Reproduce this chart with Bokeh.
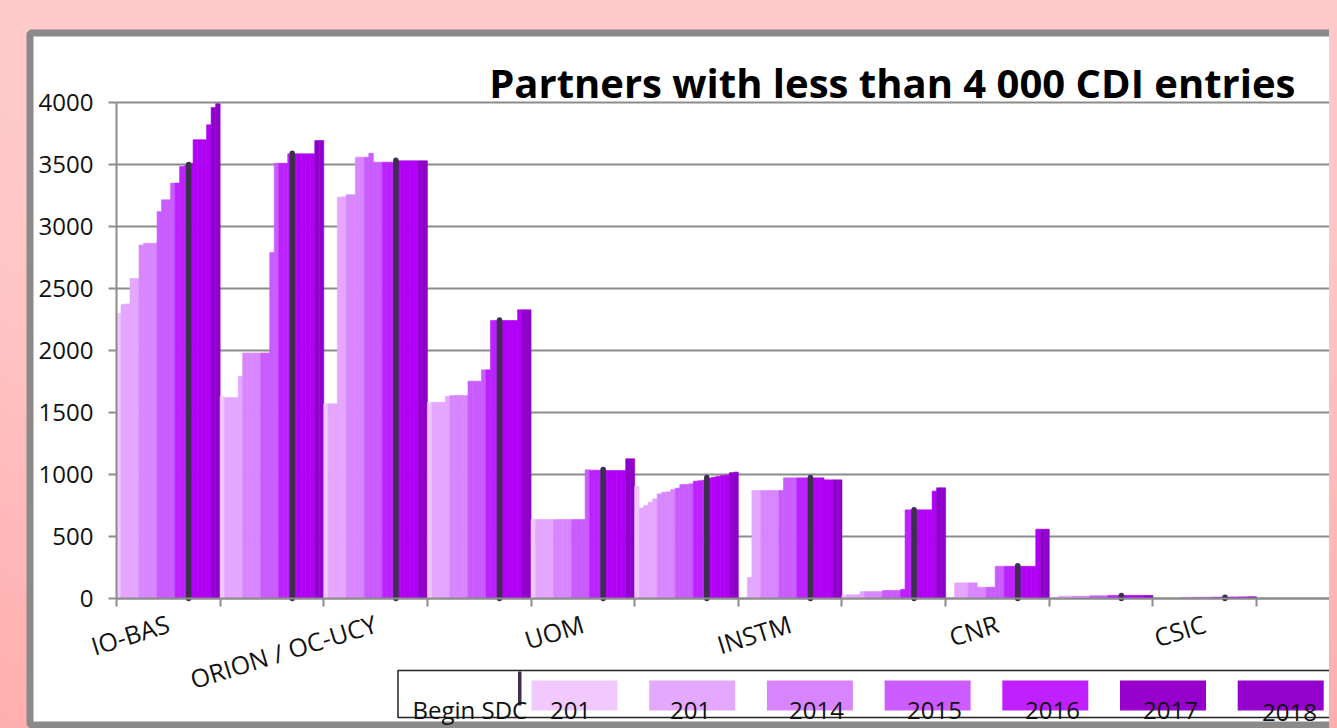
from bokeh.plotting import figure
from bokeh.models import ColumnDataSource, Range1d, FixedTicker, BoxAnnotation, Label
from bokeh.embed import file_html
from bokeh.resources import INLINE

# ---------------- data ----------------
title_text = "Partners with less than 4 000 CDI entries"
partners = ["IO-BAS", "", "ORION / OC-UCY", "", "UOM", "", "INSTM", "", "CNR", "", "CSIC"]

# 23 snapshots per partner, coloured by year
snapshot_year = [2012] + [2013] * 4 + [2014] * 4 + [2015] * 4 + [2016] * 3 + [2017] * 5 + [2018] * 2
begin_sdc_index = 16  # snapshot at which SDC begins

io_bas = [2300, 2370, 2376, 2580, 2580, 2850, 2865, 2865, 2865, 3120, 3215, 3215,
          3350, 3350, 3484, 3490, 3510, 3700, 3700, 3700, 3820, 3960, 3990]
partner_2 = [1630, 1620, 1620, 1620, 1790, 1980, 1980, 1980, 1980, 1980, 1980, 2790,
             3510, 3510, 3510, 3586, 3586, 3586, 3586, 3586, 3586, 3693, 3693]
orion_oc_ucy = [1570, 1570, 1570, 3237, 3240, 3256, 3256, 3559, 3559, 3559, 3590, 3519,
                3519, 3519, 3519, 3519, 3530, 3530, 3530, 3530, 3530, 3530, 3530]
partner_4 = [1580, 1583, 1583, 1583, 1630, 1637, 1637, 1637, 1637, 1753, 1753, 1753,
             1844, 1844, 2242, 2242, 2242, 2242, 2242, 2242, 2328, 2328, 2328]
uom = [637, 637, 637, 637, 637, 637, 637, 637, 637, 637, 637, 637,
       1038, 1035, 1035, 1035, 1032, 1032, 1032, 1032, 1032, 1127, 1127]
partner_6 = [905, 730, 750, 777, 804, 844, 857, 860, 880, 890, 919, 920,
             925, 946, 950, 955, 970, 978, 985, 992, 995, 1015, 1019]
instm = [0, 0, 170, 871, 871, 871, 871, 871, 871, 871, 973, 973,
         973, 973, 973, 973, 973, 973, 973, 957, 957, 957, 957]
partner_8 = [25, 30, 30, 30, 56, 56, 56, 56, 56, 65, 65, 65,
             65, 73, 715, 715, 715, 715, 715, 715, 866, 893, 893]
cnr = [0, 0, 126, 126, 126, 126, 126, 91, 91, 91, 91, 260,
       260, 260, 260, 260, 260, 260, 260, 260, 559, 559, 559]
partner_10 = [0, 0, 19, 19, 19, 19, 19, 19, 19, 22, 22, 22,
              22, 25, 25, 25, 25, 25, 25, 25, 25, 25, 25]
csic = [0, 0, 0, 0, 0, 0, 10, 10, 10, 10, 10, 11,
        11, 11, 11, 12, 12, 12, 12, 13, 13, 14, 14]

begin_sdc = [3500, 3590, 3535, 2245, 1040, 975, 975, 715, 265, 24, 10]

y_ticks = [0, 500, 1000, 1500, 2000, 2500, 3000, 3500, 4000]

year_colors = {2012: "#f0c8ff", 2013: "#e4a6ff", 2014: "#d886ff", 2015: "#c95cff",
               2016: "#bb22ff", 2017: "#b000f5", 2018: "#9000cc"}
legend_labels = ["201", "201", "2014", "2015", "2016", "2017", "2018"]
legend_colors = ["#f2c9ff", "#e4a8ff", "#d884ff", "#cc5cff", "#c020ff", "#9700cc", "#9400cc"]

series = [io_bas, partner_2, orion_oc_ucy, partner_4, uom, partner_6,
          instm, partner_8, cnr, partner_10, csic]

# ---------------- layout helpers ----------------
N = len(snapshot_year)
FONT = "Open Sans"
GRID = "#8c8c8c"

# plot area in page pixels: x 116..1337, y 598 (0) .. 102 (4000)
GROUP_PX = 103.64
PX_PER_UNIT = 0.124


def px_x(a):
    return (a - 116) / GROUP_PX


def px_y(a):
    return (598 - a) / PX_PER_UNIT


# the canvas sits at page (8, 8); the frame covers the whole canvas.
# Canvas is transparent so the page's pink slide background shows through.
p = figure(width=1329, height=720, output_backend="svg", toolbar_location=None,
           x_range=Range1d(px_x(8), px_x(1337)), y_range=Range1d(px_y(728), px_y(8)),
           min_border=0)
p.border_fill_alpha = 0
p.background_fill_alpha = 0
p.outline_line_color = None
p.grid.grid_line_color = None

# white slide panel with grey frame
p.add_layout(BoxAnnotation(left=px_x(29.5), right=px_x(1500), top=px_y(32.5), bottom=px_y(724.5),
                           fill_color="white", fill_alpha=1, line_color="#8a8a8a", line_alpha=1,
                           line_width=7, level="image"))

# horizontal gridlines at the y ticks
x_end = px_x(1337)
p.segment(x0=[0] * len(y_ticks), y0=y_ticks, x1=[x_end] * len(y_ticks), y1=y_ticks,
          line_color=GRID, line_width=2)

# bars
lefts, rights, tops, colors = [], [], [], []
for g, vals in enumerate(series):
    for s, v in enumerate(vals):
        lefts.append(g + s / N)
        rights.append(g + (s + 1) / N)
        tops.append(v)
        colors.append(year_colors[snapshot_year[s]])
src = ColumnDataSource(dict(left=lefts, right=rights, top=tops, bottom=[0] * len(tops), color=colors))
p.quad(left="left", right="right", top="top", bottom="bottom", fill_color="color",
       line_color="color", line_width=0.6, source=src)

# Begin SDC markers
sdc_x = [g + begin_sdc_index / N for g in range(len(series))]
p.segment(x0=sdc_x, y0=[0] * len(sdc_x), x1=sdc_x, y1=begin_sdc,
          line_color="#3d2f4d", line_width=5.5, line_cap="round")

# axes, pinned at the data origin
p.yaxis.fixed_location = 0
p.yaxis.bounds = (0, 4000)
p.yaxis.ticker = FixedTicker(ticks=y_ticks)
p.yaxis.axis_line_color = GRID
p.yaxis.axis_line_width = 2
p.yaxis.major_tick_line_color = GRID
p.yaxis.major_tick_line_width = 2
p.yaxis.major_tick_out = 8
p.yaxis.major_tick_in = 0
p.yaxis.minor_tick_line_color = None
p.yaxis.major_label_text_font = FONT
p.yaxis.major_label_text_font_size = "24px"
p.yaxis.major_label_text_color = "#111111"
p.yaxis.major_label_standoff = 15

label_ticks = [g + 0.5 for g, name in enumerate(partners) if name]
p.xaxis.fixed_location = 0
p.xaxis.bounds = (0, x_end)
p.xaxis.ticker = FixedTicker(ticks=label_ticks, minor_ticks=list(range(len(series) + 1)))
p.xaxis.major_label_overrides = {g + 0.5: name for g, name in enumerate(partners) if name}
p.xaxis.major_label_orientation = 0.30
p.xaxis.major_label_text_font = FONT
p.xaxis.major_label_text_font_size = "25px"
p.xaxis.major_label_text_color = "#111111"
p.xaxis.major_label_standoff = 16
p.xaxis.axis_line_color = GRID
p.xaxis.axis_line_width = 2
p.xaxis.major_tick_line_color = None
p.xaxis.major_tick_out = 8
p.xaxis.major_tick_in = 0
p.xaxis.minor_tick_line_color = GRID
p.xaxis.minor_tick_line_width = 2
p.xaxis.minor_tick_out = 8
p.xaxis.minor_tick_in = 0

# title
p.add_layout(Label(x=px_x(1295), y=px_y(82), text=title_text, text_align="right",
                   text_baseline="alphabetic", text_font=FONT, text_font_size="40px",
                   text_font_style="bold", text_color="black"))

# legend (drawn by hand to mimic the original layout)
p.add_layout(BoxAnnotation(left=px_x(397.5), right=px_x(1500), top=px_y(670), bottom=px_y(717),
                           fill_color="white", fill_alpha=1, line_color="#222222", line_alpha=1,
                           line_width=1.5))
p.add_layout(BoxAnnotation(left=px_x(517.5), right=px_x(521), top=px_y(671), bottom=px_y(705),
                           fill_color="#3d2f4d", fill_alpha=1, line_color=None))
p.add_layout(Label(x=px_x(412), y=px_y(709), text="Begin SDC", text_align="left",
                   text_baseline="alphabetic", text_font=FONT, text_font_size="24px",
                   text_color="#111111"))
text_centers = [570, 690, 816, 934, 1052, 1170, 1289]
for k, (lab, col) in enumerate(zip(legend_labels, legend_colors)):
    x0 = 531 + k * 117.7
    p.add_layout(BoxAnnotation(left=px_x(x0), right=px_x(x0 + 86), top=px_y(680), bottom=px_y(710),
                               fill_color=col, fill_alpha=1, line_color=None))
    p.add_layout(Label(x=px_x(text_centers[k]), y=px_y(710 + (2 if k == 6 else 0)), text=lab,
                       text_align="center", text_baseline="alphabetic", text_font=FONT,
                       text_font_size="24px", text_color="#111111"))

template = """
{% block postamble %}
<style>
html, body {
  background: linear-gradient(to bottom, #ffcaca 0%, #ffc6c6 35%, #ffaeae 100%) !important;
  overflow: hidden !important;
}
body { margin: 8px !important; }
</style>
{% endblock %}
"""

open("out.html", "w").write(file_html(p, INLINE, template=template))
